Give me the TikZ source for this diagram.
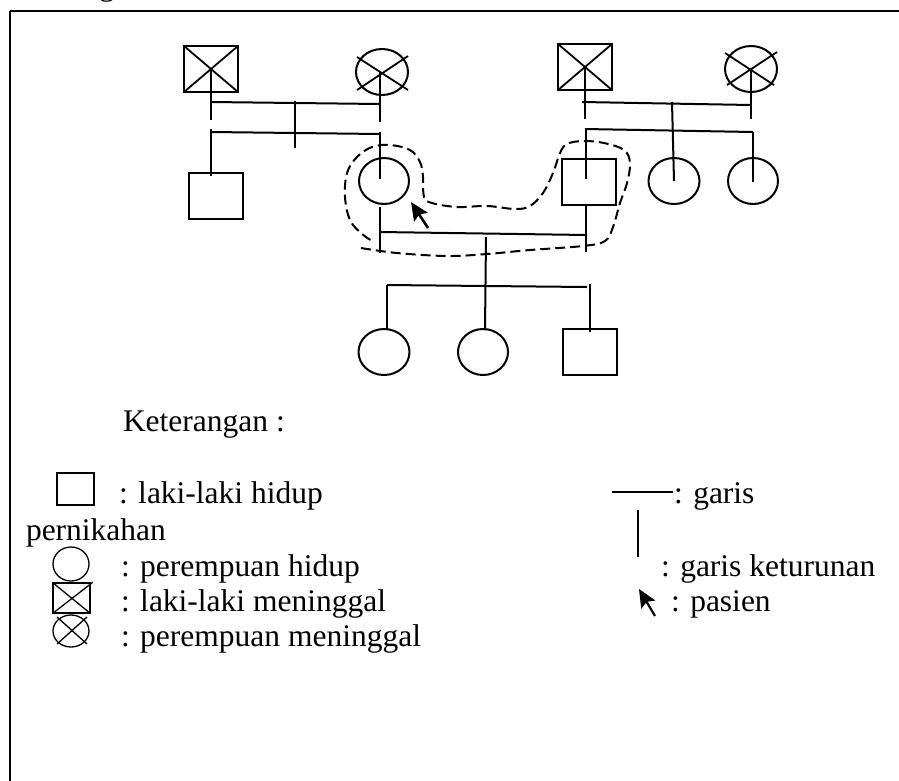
\documentclass[tikz,border=0pt]{standalone}
\usepackage{fontspec}
\setmainfont{Liberation Serif}
\usetikzlibrary{arrows.meta,shapes.geometric}
\begin{document}
\begin{tikzpicture}[x=1pt,y=-1pt,line width=2pt,
  male/.style={draw,rectangle,minimum width=54pt,minimum height=46pt,inner sep=0pt},
  female/.style={draw,ellipse,minimum width=51pt,minimum height=46pt,inner sep=0pt},
  deadmale/.style={male,path picture={\draw[line width=1.8pt]
      (path picture bounding box.north west) -- (path picture bounding box.south east)
      (path picture bounding box.south west) -- (path picture bounding box.north east);}},
  outline/.style={dash pattern=on 10pt off 5pt,line width=2pt},
  patient/.style={-{Stealth[length=18pt,width=16pt,inset=3pt]},line width=2.6pt},
  txt/.style={anchor=base west,inner sep=0pt,font=\fontsize{31.5}{36}\selectfont},
  keysym/.style={line width=1.3pt}
]
\useasboundingbox (0,0) rectangle (899,780);

% page title and frame
\node[txt] (title) at (30,-5) {Genogram};
\draw (10,11) -- (910,11);
\draw (10,11) -- (10,790);

% ---------- grandparents (side of the patient's mother) ----------
\node[deadmale] (gf1) at (211,69) {};
\node[female,minimum width=52pt] (gm1) at (382,72) {};
\draw[line width=1.8pt] ([shift={(-25,-15)}]gm1.center) -- ([shift={(26,18)}]gm1.center)
                        ([shift={(-25,18)}]gm1.center) -- ([shift={(26,-16)}]gm1.center);
\coordinate (m1L) at (211,102);
\coordinate (m1R) at (380,104);
\coordinate (m1C) at (295,101);
\coordinate (s1C) at (295,148);
\coordinate (s1L) at (211,132);
\coordinate (s1R) at (380,134);
\draw (gf1.center) -- (211,120);
\draw (gm1.center -| m1R) -- (380,122);
\draw (m1L) -- (m1R);
\draw (m1C) -- (s1C);
\draw (s1L) -- (s1R);

% children of the first couple
\node[male] (u1) at (216,196) {};
\node[female,minimum width=50pt] (mo) at (384,181) {};
\draw (211,129) -- (211,176);
\draw (380,132) -- (380,179);

% ---------- grandparents (side of the patient's father) ----------
\node[deadmale] (gf2) at (585,67) {};
\node[female,minimum width=52pt] (gm2) at (751,69) {};
\draw[line width=1.8pt] ([shift={(-26,-16)}]gm2.center) -- ([shift={(23,16)}]gm2.center)
                        ([shift={(-24,16)}]gm2.center) -- ([shift={(26,-17)}]gm2.center);
\coordinate (m2L) at (582,102);
\coordinate (m2R) at (751,105);
\coordinate (m2C) at (672,102);
\coordinate (s2L) at (585,129);
\coordinate (s2R) at (753,132);
\draw (gf2.center) -- (585,119);
\draw (gm2.center) -- (751,119);
\draw (m2L) -- (m2R);
\draw (s2L) -- (s2R);

% children of the second couple
\node[male] (fa) at (589,182) {};
\node[female] (a1) at (674,181) {};
\node[female,minimum width=50pt] (a2) at (753,181) {};
\draw (586,129) -- (586,179);
\draw (m2C) -- (a1.center);
\draw (s2R) -- (753,182);

% ---------- parents of the youngest generation ----------
\coordinate (m3L) at (380,232);
\coordinate (m3R) at (587,235);
\draw (mo.south -| m3L) ++(0,2) -- (380,253);
\draw (586,205) -- (586,252);
\draw (m3L) -- (m3R);
\coordinate (m3C) at (486,237);

% youngest generation
\node[female] (c1) at (384,352) {};
\node[female,minimum width=50pt] (c2) at (483,352) {};
\node[male] (c3) at (590,352) {};
\coordinate (s3L) at (387,285);
\coordinate (s3R) at (587,287);
\draw (m3C) -- (485,330);
\draw (s3L) -- (s3R);
\draw (s3L) -- (387,330);
\draw (590,284) -- (590,332);

% household outline around the parents
\draw[outline] plot[smooth,tension=0.6] coordinates {
  (361,248) (397,253) (447,256) (487,254) (530,250) (583,246) (605,241)
  (613,227) (620,203) (627,183) (630,163) (624,150) (604,143) (583,141)
  (567,144) (560,153) (553,173) (543,193) (530,206) (515,209) (487,206)
  (457,207) (432,203) (424,197) (423,177) (420,162) (410,150) (390,145)
  (372,147) (357,157) (347,173) (345,197) (350,220) (362,234) (374,242)};

% patient marker
\coordinate (pt) at (428,228);
\draw[patient] (pt) -- (411,202);

% ---------- legend ----------
\node[txt] (ket) at (122,431) {Keterangan :};

\node[draw,keysym,rectangle,minimum width=37pt,minimum height=32pt,inner sep=0pt] (kmale) at (75.5,489) {};
\node[txt] (tmale) at (118,503) {: laki-laki hidup};
\node[txt] (tnikah) at (25,540) {pernikahan};

\node[draw,keysym,ellipse,minimum width=36pt,minimum height=34pt,inner sep=0pt] (kfem) at (71,564) {};
\node[txt] (tfem) at (120,576) {: perempuan hidup};

\node[draw,keysym,rectangle,minimum width=37pt,minimum height=30pt,inner sep=0pt] (kdm) at (71.5,598) {};
\draw[keysym] (kdm.north west) -- (kdm.south east) (kdm.south west) -- ([shift={(2,0)}]kdm.north east);
\node[txt] (tdm) at (120,611) {: laki-laki meninggal};

\node[draw,keysym,ellipse,minimum width=36pt,minimum height=32pt,inner sep=0pt] (kdf) at (71,631) {};
\draw[keysym] ([shift={(-14,-14)}]kdf.center) -- ([shift={(16,13)}]kdf.center)
              ([shift={(-14,13)}]kdf.center) -- ([shift={(16,-14)}]kdf.center);
\node[txt] (tdf) at (120,646) {: perempuan meninggal};

\coordinate (klineL) at (612,492);
\node[txt] (tgaris) at (673,503) {: garis};
\draw[keysym] (klineL) -- (tgaris.west |- klineL);

\coordinate (kvT) at (638,510);
\coordinate (kvB) at (638,557);
\draw[keysym] (kvT) -- (kvB);
\node[txt] (tketurunan) at (660,576) {: garis keturunan};

\coordinate (kpt) at (655,616);
\draw[patient,line width=2.2pt] (kpt) -- (639,589);
\node[txt] (tpasien) at (670,611) {: pasien};
\end{tikzpicture}
\end{document}
